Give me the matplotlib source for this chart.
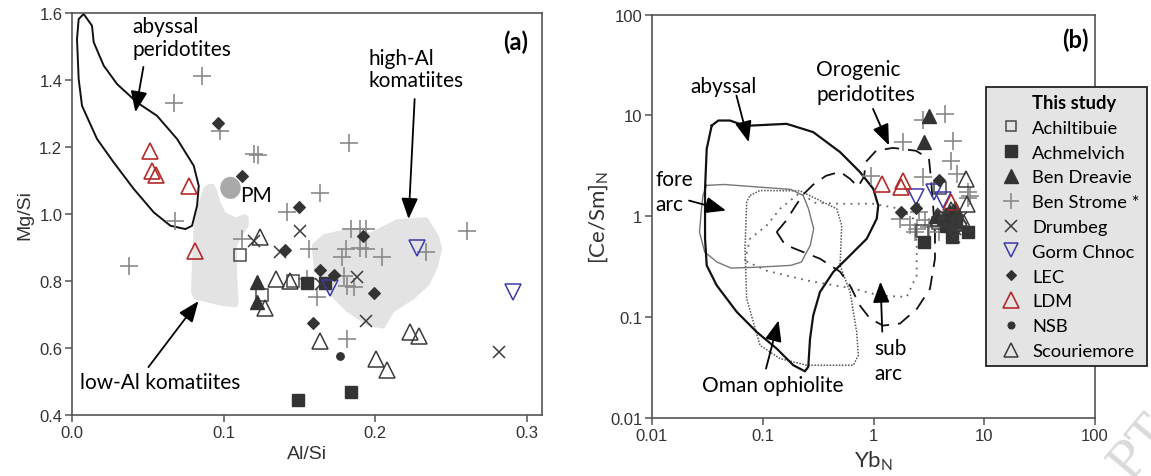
import matplotlib
matplotlib.use("Agg")
import matplotlib.pyplot as plt
import numpy as np
from matplotlib.lines import Line2D
from matplotlib.patches import Polygon, Ellipse
from matplotlib.ticker import FixedLocator, NullLocator, FixedFormatter

plt.rcParams['font.family'] = ['Liberation Sans', 'DejaVu Sans']
plt.rcParams['mathtext.fontset'] = 'custom'
plt.rcParams['mathtext.rm'] = 'Lato'
ANN = ['Lato', 'DejaVu Sans']

# ---------------- series names ----------------
series_names = ['Achiltibuie', 'Achmelvich', 'Ben Dreavie', 'Ben Strome *', 'Drumbeg',
                'Gorm Chnoc', 'LEC', 'LDM', 'NSB', 'Scouriemore']

# ---------------- panel (a): Al/Si vs Mg/Si ----------------
a_achiltibuie_x = [0.1106, 0.1252, 0.1456]
a_achiltibuie_y = [0.878, 0.758, 0.800]
a_achmelvich_x = [0.155, 0.167, 0.149, 0.1843]
a_achmelvich_y = [0.794, 0.794, 0.446, 0.470]
a_bendreavie_x = [0.1217, 0.1217]
a_bendreavie_y = [0.796, 0.736]
a_benstrome_x = [0.0856, 0.0675, 0.0979, 0.120, 0.123, 0.0681, 0.1417, 0.1638, 0.1826, 0.0373,
                 0.112, 0.156, 0.1837, 0.190, 0.1936, 0.1804, 0.178, 0.190, 0.1936, 0.2046,
                 0.2332, 0.2605, 0.155, 0.1617, 0.1793, 0.1815, 0.1859, 0.1815]
a_benstrome_y = [1.413, 1.331, 1.247, 1.180, 1.175, 0.980, 1.005, 1.063, 1.212, 0.845,
                 0.925, 0.896, 0.955, 0.955, 0.955, 0.896, 0.871, 0.900, 0.896, 0.871,
                 0.886, 0.950, 0.806, 0.751, 0.816, 0.786, 0.781, 0.627]
a_drumbeg_x = [0.1507, 0.1199, 0.137, 0.164, 0.188, 0.194, 0.2816]
a_drumbeg_y = [0.950, 0.920, 0.888, 0.791, 0.811, 0.681, 0.587]
a_gorm_x = [0.2275, 0.291, 0.170]
a_gorm_y = [0.900, 0.768, 0.778]
a_lec_x = [0.0966, 0.1124, 0.150, 0.192, 0.1408, 0.1634, 0.173, 0.1995, 0.159]
a_lec_y = [1.271, 1.114, 1.020, 0.935, 0.893, 0.834, 0.818, 0.764, 0.675]
a_ldm_x = [0.0517, 0.0526, 0.0554, 0.077, 0.0814]
a_ldm_y = [1.189, 1.129, 1.117, 1.084, 0.890]
a_nsb_x = [0.177]
a_nsb_y = [0.577]
a_scour_x = [0.1238, 0.127, 0.1348, 0.144, 0.1637, 0.2002, 0.2075, 0.2228, 0.2288]
a_scour_y = [0.930, 0.720, 0.806, 0.800, 0.622, 0.567, 0.535, 0.647, 0.637]

# fields in panel (a)
abyssal_a_x = [0.0077, 0.0132, 0.0143, 0.0209, 0.0297, 0.0429, 0.0561, 0.0693, 0.0803, 0.0836,
               0.0825, 0.0792, 0.0748, 0.0649, 0.0539, 0.0407, 0.0275, 0.0165, 0.0066, 0.0044,
               0.0033, 0.0044]
abyssal_a_y = [1.597, 1.562, 1.513, 1.443, 1.388, 1.333, 1.293, 1.224, 1.144, 1.084,
               1.025, 0.965, 0.955, 0.965, 1.005, 1.075, 1.154, 1.224, 1.323, 1.403,
               1.522, 1.582]
lowal_x = [0.0902, 0.0869, 0.0836, 0.0803, 0.0792, 0.0785, 0.0803, 0.0979, 0.1089, 0.1100,
           0.1089, 0.1089, 0.1122, 0.1166, 0.1166, 0.1144, 0.1078, 0.1012, 0.0979, 0.0957, 0.0935]
lowal_y = [1.0896, 1.0797, 1.0349, 0.9651, 0.8657, 0.7663, 0.7463, 0.7263, 0.7215, 0.7364,
           0.8158, 0.9054, 0.9352, 0.9651, 0.9901, 1.0000, 0.9901, 1.0051, 1.0349, 1.0696, 1.0896]
highal_x = [0.1584, 0.1659, 0.1815, 0.1969, 0.2057, 0.2145, 0.2343, 0.2420, 0.2442, 0.2409,
            0.2354, 0.2255, 0.2123, 0.2057, 0.1947, 0.1815, 0.1683, 0.1595, 0.1584]
highal_y = [0.910, 0.940, 0.955, 0.945, 0.965, 0.985, 0.990, 0.935, 0.896, 0.836,
            0.786, 0.746, 0.707, 0.657, 0.667, 0.707, 0.766, 0.836, 0.886]
pm_x, pm_y = 0.1045, 1.078

# ---------------- panel (b): Yb_N vs [Ce/Sm]_N ----------------
b_achiltibuie_x = [2.72, 4.0, 4.4, 3.8]
b_achiltibuie_y = [0.72, 1.9, 0.95, 0.85]
b_achmelvich_x = [2.86, 5.08, 7.2, 4.5, 5.6]
b_achmelvich_y = [0.56, 0.62, 0.70, 0.80, 0.88]
b_bendreavie_x = [3.2, 2.86, 3.7, 4.3, 4.9, 5.4]
b_bendreavie_y = [9.8, 5.5, 1.0, 0.95, 1.1, 1.2]
b_benstrome_x = [4.42, 2.78, 1.84, 5.19, 5.0, 0.944, 2.82, 5.63, 7.2, 7.4, 7.2, 1.73, 2.15,
                 2.35, 3.2, 2.9, 3.9, 2.6, 2.45]
b_benstrome_y = [10.3, 8.9, 5.43, 5.62, 3.5, 2.53, 2.44, 2.64, 1.74, 1.6, 1.5, 0.94, 0.81,
                 0.70, 0.78, 0.92, 0.70, 1.1, 0.75]
b_drumbeg_x = [4.5, 5.5, 6.2, 5.3, 4.2]
b_drumbeg_y = [0.85, 0.75, 0.95, 0.62, 1.05]
b_gorm_x = [2.4, 3.55, 4.2]
b_gorm_y = [1.55, 1.75, 1.45]
b_lec_x = [1.77, 2.4, 3.93, 5.0]
b_lec_y = [1.1, 1.2, 2.3, 1.05]
b_ldm_x = [1.20, 1.86, 1.78, 4.99]
b_ldm_y = [2.10, 2.26, 1.95, 1.38]
b_nsb_x = [4.8]
b_nsb_y = [0.9]
b_scour_x = [6.83, 6.92, 3.8, 4.5, 5.3, 5.9, 6.5, 5.0]
b_scour_y = [2.35, 1.33, 0.95, 1.0, 0.88, 0.95, 0.85, 1.15]

# fields in panel (b), as log10 values
abyssal_b_lx = [-1.461, -1.401, -1.296, -1.160, -0.784, -0.544, -0.302, -0.122, -0.002, 0.043,
                0.029, -0.061, -0.242, -0.363, -0.483, -0.544, -0.573, -0.589, -0.619, -0.724,
                -0.874, -1.055, -1.235, -1.416, -1.506, -1.521, -1.521, -1.506]
abyssal_b_ly = [0.899, 0.949, 0.949, 0.896, 0.916, 0.834, 0.636, 0.438, 0.272, 0.107,
                -0.025, -0.223, -0.421, -0.552, -0.750, -0.982, -1.213, -1.493, -1.537, -1.477,
                -1.312, -1.147, -0.948, -0.685, -0.487, -0.223, 0.272, 0.668]
forearc_lx = [-1.508, -1.349, -1.032, -0.746, -0.635, -0.587, -0.540, -0.571, -0.651, -0.746,
              -1.032, -1.286, -1.413, -1.524, -1.571, -1.556, -1.540]
forearc_ly = [0.306, 0.315, 0.289, 0.266, 0.206, 0.074, -0.124, -0.289, -0.454, -0.487,
              -0.504, -0.514, -0.454, -0.355, -0.157, 0.041, 0.206]
oman_lx = [-1.115, -1.025, -0.664, -0.332, -0.287, -0.302, -0.212, -0.152, -0.137, -0.182,
           -0.603, -0.844, -1.025, -1.145, -1.160, -1.145]
oman_ly = [0.206, 0.255, 0.252, 0.074, -0.091, -0.487, -0.750, -1.147, -1.378, -1.477,
           -1.477, -1.411, -1.279, -0.817, -0.322, 0.141]
subarc_lx = [-1.160, -1.115, -0.964, -0.844, -0.664, -0.528, -0.302, -0.002, 0.239, 0.359,
             0.390, 0.390, 0.300, 0.059, -0.182, -0.603, -0.964]
subarc_ly = [-0.441, -0.223, -0.091, 0.074, 0.233, 0.134, 0.124, 0.124, 0.074, -0.025,
             -0.255, -0.586, -0.800, -0.787, -0.718, -0.636, -0.540]
orog_lx = [-0.874, -0.790, -0.709, -0.637, -0.546, -0.429, -0.302, -0.212, -0.140, -0.086,
           -0.068, 0.023, 0.176, 0.384, 0.501, 0.519, 0.537, 0.555, 0.555, 0.510,
           0.393, 0.239, 0.086, -0.032, -0.122, -0.212, -0.302, -0.483, -0.664, -0.799]
orog_ly = [-0.156, -0.045, 0.094, 0.213, 0.312, 0.401, 0.441, 0.371, 0.292, 0.391,
           0.540, 0.649, 0.678, 0.649, 0.569, 0.371, 0.124, -0.173, -0.421, -0.718,
           -0.916, -1.064, -1.084, -1.015, -0.886, -0.688, -0.550, -0.421, -0.342, -0.282]

a_x_ticks = [0.0, 0.1, 0.2, 0.3]
a_y_ticks = [0.4, 0.6, 0.8, 1.0, 1.2, 1.4, 1.6]
b_ticks = [0.01, 0.1, 1, 10, 100]
b_tick_labels = ['0.01', '0.1', '1', '10', '100']

# ---------------- styles ----------------
DK = '#333333'
styles = [
    dict(marker='s', mfc='none', mec='#4a4a4a', mew=1.1, ms=8.0),
    dict(marker='s', mfc=DK, mec=DK, mew=1.0, ms=8.0),
    dict(marker='^', mfc=DK, mec=DK, mew=1.0, ms=10.5),
    dict(marker='+', mfc='none', mec='#8a8a8a', mew=1.2, ms=13.0),
    dict(marker='x', mfc='none', mec='#3a3a3a', mew=1.1, ms=8.5),
    dict(marker='v', mfc='none', mec='#3a3aa8', mew=1.1, ms=11.0),
    dict(marker='D', mfc=DK, mec=DK, mew=0.8, ms=5.8),
    dict(marker='^', mfc='none', mec='#b52a2a', mew=1.2, ms=11.0),
    dict(marker='o', mfc=DK, mec=DK, mew=0.8, ms=5.5),
    dict(marker='^', mfc='none', mec='#3a3a3a', mew=1.1, ms=11.0),
]
legend_ms = [7, 8, 9.5, 11.5, 8, 10.5, 5, 11, 5, 10.5]

a_sets = [(a_achiltibuie_x, a_achiltibuie_y), (a_achmelvich_x, a_achmelvich_y),
          (a_bendreavie_x, a_bendreavie_y), (a_benstrome_x, a_benstrome_y),
          (a_drumbeg_x, a_drumbeg_y), (a_gorm_x, a_gorm_y), (a_lec_x, a_lec_y),
          (a_ldm_x, a_ldm_y), (a_nsb_x, a_nsb_y), (a_scour_x, a_scour_y)]
b_sets = [(b_achiltibuie_x, b_achiltibuie_y), (b_achmelvich_x, b_achmelvich_y),
          (b_bendreavie_x, b_bendreavie_y), (b_benstrome_x, b_benstrome_y),
          (b_drumbeg_x, b_drumbeg_y), (b_gorm_x, b_gorm_y), (b_lec_x, b_lec_y),
          (b_ldm_x, b_ldm_y), (b_nsb_x, b_nsb_y), (b_scour_x, b_scour_y)]
plot_order = [3, 0, 1, 2, 4, 5, 6, 7, 8, 9]

W, H = 1151, 477
fig = plt.figure(figsize=(W / 100, H / 100), dpi=100)
axA = fig.add_axes([72 / W, (H - 416) / H, 470 / W, 402 / H])
axB = fig.add_axes([652 / W, (H - 419) / H, 443 / W, 403.5 / H])

SP = '#555555'
for ax in (axA, axB):
    for s in ax.spines.values():
        s.set_color(SP)
        s.set_linewidth(1.2)
    ax.tick_params(direction='out', length=5, width=1.1, color=SP, labelsize=12,
                   labelcolor='#333333', pad=2)

# ---- panel (a) ----
axA.set_xlim(0, 0.31)
axA.set_ylim(0.4, 1.6)
axA.xaxis.set_major_locator(FixedLocator(a_x_ticks))
axA.xaxis.set_major_formatter(FixedFormatter(['%.1f' % v for v in a_x_ticks]))
axA.yaxis.set_major_locator(FixedLocator(a_y_ticks))
axA.yaxis.set_major_formatter(FixedFormatter(['%.1f' % v for v in a_y_ticks]))
axA.set_xlabel('Al/Si', fontsize=14, color='#333333', labelpad=4)
axA.set_ylabel('Mg/Si', fontsize=14, color='#333333', labelpad=4)

axA.add_patch(Polygon(np.column_stack([lowal_x, lowal_y]), closed=True,
                      facecolor='#e3e3e3', edgecolor='none', zorder=1))
axA.add_patch(Polygon(np.column_stack([highal_x, highal_y]), closed=True,
                      facecolor='#e3e3e3', edgecolor='none', zorder=1))
axA.add_patch(Ellipse((pm_x, pm_y), 0.0135, 0.066, facecolor='#a9a9a9',
                      edgecolor='none', zorder=1.5))
axA.add_patch(Polygon(np.column_stack([abyssal_a_x, abyssal_a_y]), closed=True,
                      facecolor='none', edgecolor='#111111', lw=1.4, zorder=2))

for i in plot_order:
    x, y = a_sets[i]
    axA.plot(x, y, linestyle='none', zorder=3, **styles[i])

arrow_kw = dict(arrowstyle='-|>,head_length=0.75,head_width=0.3', mutation_scale=17,
                lw=1.3, color='black', shrinkA=0, shrinkB=0)
axA.text(0.0398, 1.527, 'abyssal\nperidotites', family=ANN, fontsize=15,
         ha='left', va='center', linespacing=1.2, zorder=5)
axA.annotate('', xy=(0.0418, 1.304), xytext=(0.0471, 1.439), arrowprops=arrow_kw, zorder=5)
axA.text(0.1956, 1.433, 'high-Al\nkomatiites', family=ANN, fontsize=15,
         ha='left', va='center', linespacing=1.1, zorder=5)
axA.annotate('', xy=(0.222, 0.985), xytext=(0.226, 1.343), arrowprops=arrow_kw, zorder=5)
axA.text(0.111, 1.057, 'PM', family=ANN, fontsize=15, ha='left', va='center', zorder=5)
axA.text(0.0055, 0.4985, 'low-Al komatiites', family=ANN, fontsize=15,
         ha='left', va='center', zorder=5)
axA.annotate('', xy=(0.0834, 0.740), xytext=(0.0504, 0.543), arrowprops=arrow_kw, zorder=5)
axA.text(0.2926, 1.516, '(a)', family=ANN, fontsize=17, fontweight='bold',
         ha='center', va='center', zorder=5)

# ---- panel (b) ----
axB.set_xscale('log')
axB.set_yscale('log')
axB.set_xlim(0.01, 100)
axB.set_ylim(0.01, 100)
for axis in (axB.xaxis, axB.yaxis):
    axis.set_major_locator(FixedLocator(b_ticks))
    axis.set_major_formatter(FixedFormatter(b_tick_labels))
    axis.set_minor_locator(NullLocator())
axB.set_xlabel(r'Yb$_{\mathrm{N}}$', family=ANN, fontsize=16, color='#333333', labelpad=4)
axB.set_ylabel(r'[Ce/Sm]$_{\mathrm{N}}$', family=ANN, fontsize=16, color='#333333', labelpad=-1)


def field(lx, ly):
    xs = np.power(10.0, np.array(lx + lx[:1]))
    ys = np.power(10.0, np.array(ly + ly[:1]))
    return xs, ys


xs, ys = field(oman_lx, oman_ly)
axB.plot(xs, ys, color='#555555', lw=1.1, linestyle=(0, (1, 1)), zorder=2)
xs, ys = field(subarc_lx, subarc_ly)
axB.plot(xs, ys, color='#666666', lw=1.3, linestyle=(0, (1, 3)), zorder=2)
xs, ys = field(forearc_lx, forearc_ly)
axB.plot(xs, ys, color='#777777', lw=1.0, linestyle='-', zorder=2)
xs, ys = field(orog_lx, orog_ly)
axB.plot(xs, ys, color='#111111', lw=1.3, linestyle=(0, (8, 5)), zorder=2)
xs, ys = field(abyssal_b_lx, abyssal_b_ly)
axB.plot(xs, ys, color='#111111', lw=1.6, linestyle='-', zorder=2)

for i in plot_order:
    x, y = b_sets[i]
    axB.plot(x, y, linestyle='none', zorder=3, **styles[i])

axB.text(0.0447, 19.6, 'abyssal', family=ANN, fontsize=15, ha='center', va='center', zorder=5)
axB.annotate('', xy=(0.0746, 5.43), xytext=(0.0579, 15.7), arrowprops=arrow_kw, zorder=5)
axB.text(0.303, 21.5, 'Orogenic\nperidotites', family=ANN, fontsize=15,
         ha='left', va='center', linespacing=1.3, zorder=5)
axB.annotate('', xy=(1.38, 5.05), xytext=(0.99, 11.6), arrowprops=arrow_kw, zorder=5)
axB.text(0.01075, 1.77, 'fore\narc', family=ANN, fontsize=15,
         ha='left', va='center', linespacing=1.3, zorder=5)
axB.annotate('', xy=(0.0466, 1.14), xytext=(0.0216, 1.43), arrowprops=arrow_kw, zorder=5)
axB.text(0.124, 0.021, 'Oman ophiolite', family=ANN, fontsize=15,
         ha='center', va='center', zorder=5)
axB.annotate('', xy=(0.139, 0.0929), xytext=(0.107, 0.0309), arrowprops=arrow_kw, zorder=5)
axB.text(1.02, 0.0371, 'sub\narc', family=ANN, fontsize=15,
         ha='left', va='center', linespacing=1.3, zorder=5)
axB.annotate('', xy=(1.156, 0.2245), xytext=(1.20, 0.0718), arrowprops=arrow_kw, zorder=5)
axB.text(65.9, 57.1, '(b)', family=ANN, fontsize=17, fontweight='bold',
         ha='center', va='center', zorder=5)

# ---- legend ----
handles = [Line2D([], [], linestyle='none')]
for i in range(len(series_names)):
    st = dict(styles[i])
    st['ms'] = legend_ms[i]
    handles.append(Line2D([], [], linestyle='none', **st))
labels = ['This study'] + series_names
leg = fig.legend(handles, labels, loc='upper left',
                 bbox_to_anchor=(986 / W, 1 - 88 / H), bbox_transform=fig.transFigure,
                 borderaxespad=0, frameon=True, fancybox=False, facecolor='#e4e4e4',
                 edgecolor='#222222', framealpha=1,
                 prop={'family': 'Lato', 'size': 13.2}, handlelength=2.0,
                 handletextpad=0.15, labelspacing=0.48, borderpad=0.38)
leg.get_frame().set_linewidth(1.3)
leg.get_texts()[0].set_fontweight('bold')

# watermark fragment
fig.text(1140 / W, 1 - 448 / H, 'PT', family=['DejaVu Serif'], fontsize=36,
         color='#dadada', rotation=50, ha='center', va='center', zorder=0)

fig.savefig('out.png', dpi=100)
